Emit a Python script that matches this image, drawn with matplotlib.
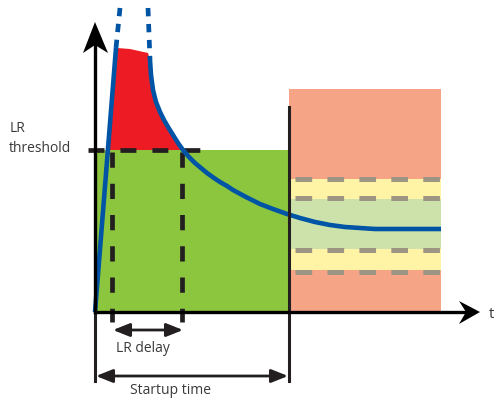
import numpy as np
import matplotlib
matplotlib.use("Agg")
import matplotlib.pyplot as plt
from matplotlib.patches import Polygon, Rectangle, FancyArrowPatch

plt.rcParams["font.family"] = ["Open Sans", "DejaVu Sans"]
plt.rcParams["lines.scale_dashes"] = False

# Diagram geometry, in pixel units of the 494x398 canvas (y grows downwards)
origin = (95, 312)
x_axis_end = 480
y_axis_end = 22
startup_x = 289
threshold_y = 150
lr_start_x = 112
lr_end_x = 182
band_x_end = 441
safe_top = 89

# Zones on the right side: (top, bottom, colour)
bands_top = [179, 199, 249]
bands_bottom = [199, 249, 270]
bands_color = ["#FFF4A6", "#CCE2AA", "#FFF4A6"]
band_dash_y = [179, 198, 250, 272]

# Measured response: rise, overshoot (off the chart), decay, settle
rise_x = [95, 116]
rise_y = [312, 48]
rise_dot_x = [116, 120]
rise_dot_y = [48, 8]
fall_dot_x = [148, 150]
fall_dot_y = [8, 60]
decay_x = [150, 151, 153, 156, 160, 164, 168, 173, 178, 183, 189, 195, 201,
           207, 214, 220, 227, 233, 246, 260, 273, 287, 300, 315, 330, 345,
           360, 375, 441]
decay_y = [60, 75, 90, 102, 112, 120, 127, 135, 143, 150, 157, 163, 168,
           173, 178, 182, 186, 190, 197, 204, 209, 214, 218, 222, 225, 227,
           228, 229, 229]

BLUE = "#0054A5"
BLACK = "#231F20"
TEXT = "#3a3a3a"

fig = plt.figure(figsize=(4.94, 3.98), dpi=100)
ax = fig.add_axes([0, 0, 1, 1])
ax.set_xlim(0, 494)
ax.set_ylim(398, 0)
ax.axis("off")

# Background zones
ax.add_patch(Rectangle((origin[0], threshold_y), startup_x - origin[0],
                       origin[1] - threshold_y, color="#8CC63F", lw=0, zorder=1))
ax.add_patch(Rectangle((startup_x, safe_top), band_x_end - startup_x,
                       origin[1] - safe_top, color="#F5A486", lw=0, zorder=1))
for top, bottom, c in zip(bands_top, bands_bottom, bands_color):
    ax.add_patch(Rectangle((startup_x, top), band_x_end - startup_x,
                           bottom - top, color=c, lw=0, zorder=2))
for y in band_dash_y:
    ax.plot([startup_x + 6, band_x_end], [y, y], color="#9C9583", lw=3.6,
            dashes=(12, 11), solid_capstyle="butt", zorder=3)

# Overshoot above the threshold (red area)
red_x = [108, 112, 117, 130, 148] + [x for x, y in zip(decay_x, decay_y) if y <= threshold_y]
red_y = [threshold_y, 100, 48, 49, 53] + [y for y in decay_y if y <= threshold_y]
ax.add_patch(Polygon(np.column_stack([red_x, red_y]), closed=True,
                     color="#ED1C24", lw=0, zorder=4))

# Threshold and LR delay markers
ax.plot([88, 200], [threshold_y, threshold_y], color=BLACK, lw=3.4,
        dashes=(11.5, 11.5), solid_capstyle="butt", zorder=5)
for x in [lr_start_x, lr_end_x]:
    ax.plot([x, x], [threshold_y + 2, 322], color=BLACK, lw=3.4,
            dashes=(11, 11.5), solid_capstyle="butt", zorder=5)

# Response curve
ax.plot(rise_x, rise_y, color=BLUE, lw=3.3, solid_capstyle="butt", zorder=6)
ax.plot(decay_x, decay_y, color=BLUE, lw=3.3, solid_capstyle="butt", zorder=6)
for xs, ys in [(rise_dot_x, rise_dot_y), (fall_dot_x, fall_dot_y)]:
    ax.plot(xs, ys, color=BLUE, lw=3.4, dashes=(6, 5.5),
            solid_capstyle="butt", zorder=6)

# Startup boundary
ax.plot([startup_x, startup_x], [107, 381], color=BLACK, lw=2.2, zorder=7)
ax.plot([origin[0], origin[0]], [origin[1], 381], color=BLACK, lw=2.2, zorder=7)

# Axes with arrow heads
ax.plot([origin[0], x_axis_end - 12], [origin[1], origin[1]], color="black",
        lw=2.4, zorder=8)
ax.plot([origin[0], origin[0]], [origin[1], y_axis_end + 12], color="black",
        lw=2.4, zorder=8)
ax.add_patch(Polygon([(x_axis_end, origin[1]), (459, 301), (466, origin[1]),
                      (459, 324)], closed=True, color="black", lw=0, zorder=8))
ax.add_patch(Polygon([(origin[0], y_axis_end), (83, 53), (origin[0], 45),
                      (108, 53)], closed=True, color="black", lw=0, zorder=8))

# Dimension arrows
for (x0, x1, y) in [(lr_start_x + 1, lr_end_x + 1, 330), (origin[0] + 1, startup_x - 1, 376)]:
    ax.add_patch(FancyArrowPatch((x0, y), (x1, y), arrowstyle="<|-|>,head_length=0.5,head_width=0.2",
                                 mutation_scale=20, color=BLACK, lw=2, shrinkA=0, shrinkB=0, zorder=8))

# Labels
ax.text(10, 128, "LR", fontsize=10, color=TEXT, va="center", ha="left")
ax.text(9, 148, "threshold", fontsize=10, color=TEXT, va="center", ha="left")
ax.text(143, 349, "LR delay", fontsize=10, color=TEXT, va="center", ha="center")
ax.text(170, 391, "Startup time", fontsize=10, color=TEXT, va="center", ha="center")
ax.text(489, 315, "t", fontsize=11, color=TEXT, va="center", ha="left")

fig.savefig("out.png", dpi=100)
